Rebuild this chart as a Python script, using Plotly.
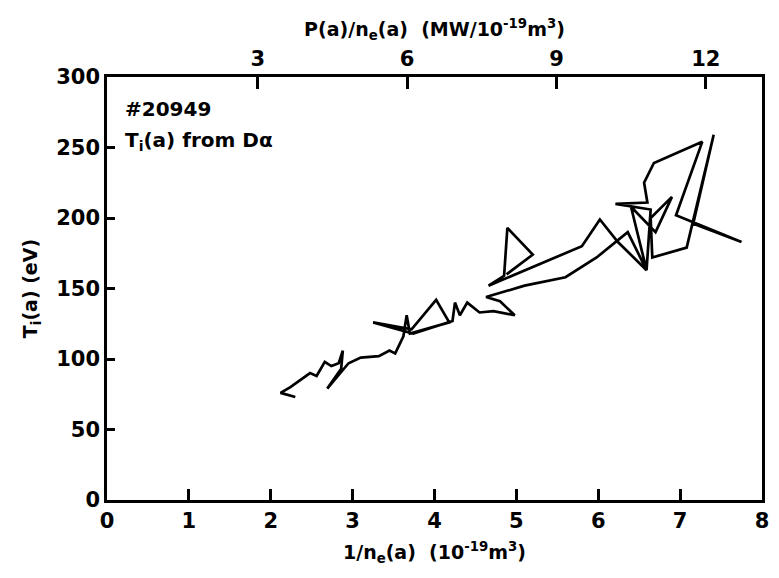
import plotly.graph_objects as go

# 1/n_e(a) (10^-19 m^3) and T_i(a) (eV)
inv_ne = [2.30, 2.12, 2.24, 2.48, 2.56, 2.66, 2.74, 2.83, 2.88, 2.86, 2.69, 2.95,
          3.10, 3.32, 3.45, 3.52, 3.62, 3.66, 3.70,
          4.18, 4.02, 3.72, 3.25, 3.74, 4.22, 4.25, 4.31, 4.40, 4.55, 4.72, 4.98,
          4.80, 4.63,
          5.10, 5.60, 5.98, 6.36, 6.59,
          6.64, 6.21, 6.60, 6.56, 6.68, 7.27, 6.95, 7.75, 7.16, 7.41, 7.08, 6.66,
          6.64, 6.90, 6.70, 6.40, 6.59, 6.24, 6.02, 5.80, 4.66, 4.85, 4.89, 5.20, 4.88]
ti = [73, 76, 80, 90, 88, 98, 95, 97, 106, 93, 79, 97,
      101, 102, 106, 104, 116, 131, 118,
      126, 142, 121, 126, 118, 127, 140, 131, 140, 133, 134, 131,
      141, 144,
      152, 158, 172, 190, 163,
      206, 210, 211, 225, 239, 254, 202, 183, 196, 259, 179, 172,
      200, 215, 190, 208, 163, 183, 199, 180, 152, 159, 193, 174, 160]

x_ticks = [0, 1, 2, 3, 4, 5, 6, 7, 8]
y_ticks = [0, 50, 100, 150, 200, 250, 300]
top_ticks = [3, 6, 9, 12]

FONT = "DejaVu Sans"

fig = go.Figure()
fig.add_trace(go.Scatter(x=inv_ne, y=ti, mode="lines",
                         line=dict(color="black", width=2.7), showlegend=False))
# empty trace so that the top axis is drawn
fig.add_trace(go.Scatter(x=top_ticks, y=[None] * len(top_ticks), xaxis="x2",
                         mode="lines", showlegend=False, hoverinfo="skip"))

axis_common = dict(showgrid=False, zeroline=False, showline=True, linecolor="black",
                   linewidth=2.5, ticks="inside", tickcolor="black", tickwidth=2.5,
                   tickfont=dict(family=FONT, size=21, color="black", weight="bold"))
title_font = dict(family=FONT, size=19, color="black", weight="bold")

fig.update_layout(
    width=779, height=578,
    margin=dict(l=107, r=10, t=77, b=78),
    paper_bgcolor="white", plot_bgcolor="white",
    xaxis=dict(range=[0, 8], tickvals=x_ticks, ticklen=11, ticklabelstandoff=0,
               title=dict(text="1/n<sub>e</sub>(a)  (10<sup>-19</sup>m<sup>3</sup>)",
                          font=title_font, standoff=14),
               **axis_common),
    xaxis2=dict(range=[-0.03, 13.13], tickvals=top_ticks, ticklen=12, overlaying="x",
                side="top", anchor="y", ticklabelstandoff=0,
                title=dict(text="P(a)/n<sub>e</sub>(a)  (MW/10<sup>-19</sup>m<sup>3</sup>)",
                           font=title_font, standoff=6),
                **axis_common),
    yaxis=dict(range=[0, 300], tickvals=y_ticks, ticklen=8, mirror=True,
               ticklabelstandoff=0,
               title=dict(text="T<sub>i</sub>(a) (eV)", font=title_font, standoff=14),
               **axis_common),
)

ann_font = dict(family=FONT, size=20, color="black", weight="bold")
fig.add_annotation(x=0.025, y=(500 - 109) / 423, xref="paper", yref="paper",
                   xanchor="left", yanchor="middle", showarrow=False,
                   text="#20949", font=ann_font)
fig.add_annotation(x=0.025, y=(500 - 141) / 423, xref="paper", yref="paper",
                   xanchor="left", yanchor="middle", showarrow=False,
                   text="T<sub>i</sub>(a) from Dα", font=ann_font)

fig.write_html("out.html")
